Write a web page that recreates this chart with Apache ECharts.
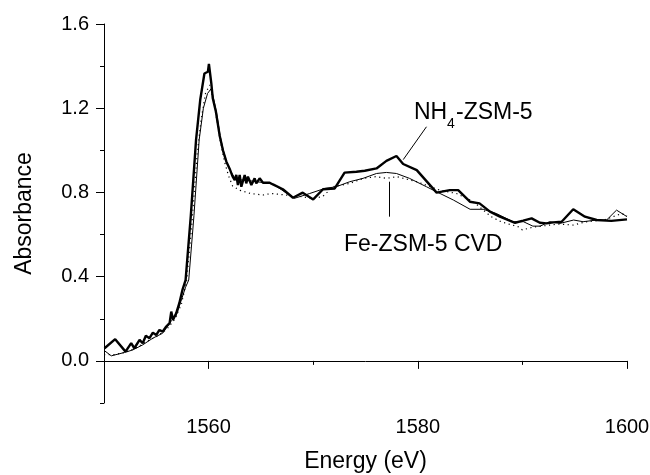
<!DOCTYPE html>
<html>
<head>
<meta charset="utf-8">
<script src="https://cdn.jsdelivr.net/npm/echarts@6/dist/echarts.min.js"></script>
<style>html,body{margin:0;padding:0;background:#fff}#c{width:650px;height:475px}</style>
</head>
<body>
<div id="c"></div>
<script>
// ---- data (energy eV, absorbance) ----
var nh4 = [
  [1550.05,0.06],[1551.07,0.103],[1552.06,0.044],[1552.6,0.084],[1552.9,0.06],[1553.4,0.10],
  [1553.7,0.084],[1554.0,0.119],[1554.35,0.108],[1554.67,0.134],[1555.0,0.123],[1555.3,0.147],
  [1555.6,0.139],[1555.95,0.163],[1556.27,0.179],[1556.43,0.234],[1556.6,0.195],[1556.9,0.226],
  [1557.2,0.274],[1557.5,0.337],[1557.8,0.384],[1558.3,0.69],[1558.8,1.05],[1559.2,1.24],
  [1559.6,1.365],[1559.93,1.373],[1560.03,1.41],[1560.26,1.318],[1560.4,1.247],[1560.7,1.183],
  [1561.05,1.072],[1561.37,1.0],[1561.7,0.946],[1562.0,0.914],[1562.3,0.875],[1562.5,0.859],
  [1562.65,0.883],[1562.8,0.835],[1562.97,0.883],[1563.13,0.827],[1563.45,0.883],[1563.6,0.843],
  [1563.76,0.875],[1564.09,0.835],[1564.4,0.867],[1564.56,0.843],[1564.88,0.867],[1565.2,0.846],
  [1565.84,0.846],[1566.15,0.838],[1567.1,0.815],[1568.07,0.775],[1569.0,0.799],[1570.0,0.767],
  [1570.94,0.815],[1572.06,0.819],[1573.0,0.894],[1574.13,0.898],[1574.93,0.903],[1576.05,0.914],
  [1577.0,0.95],[1577.96,0.973],[1578.6,0.935],[1579.9,0.906],[1581.8,0.799],[1583.06,0.811],
  [1583.86,0.811],[1584.98,0.756],[1585.9,0.748],[1586.9,0.709],[1587.85,0.685],[1589.3,0.656],
  [1590.08,0.666],[1590.88,0.677],[1591.67,0.656],[1592.3,0.653],[1592.95,0.658],[1593.75,0.661],
  [1594.86,0.72],[1595.98,0.685],[1597.1,0.669],[1598.5,0.665],[1600.0,0.672]
];
var cvd = [
  [1550.0,0.05],[1550.7,0.024],[1551.96,0.04],[1552.75,0.052],[1553.7,0.076],[1554.67,0.108],
  [1555.6,0.131],[1556.4,0.187],[1556.9,0.215],[1557.4,0.29],[1557.8,0.35],[1558.1,0.384],
  [1558.6,0.69],[1559.1,1.05],[1559.5,1.2],[1559.9,1.27],[1560.26,1.294],[1560.5,1.24],
  [1560.75,1.18],[1561.1,1.07],[1561.4,1.0],[1561.75,0.94],[1562.1,0.9],[1562.5,0.87],
  [1563.0,0.86],[1564.0,0.855],[1565.36,0.846],[1566.15,0.84],[1568.2,0.772],[1569.67,0.795],
  [1571.1,0.819],[1572.2,0.827],[1573.5,0.851],[1574.77,0.867],[1576.05,0.89],[1577.0,0.895],
  [1577.96,0.89],[1579.2,0.867],[1580.83,0.827],[1581.8,0.803],[1583.4,0.764],[1585.0,0.72],
  [1586.25,0.72],[1587.5,0.70],[1589.1,0.661],[1590.1,0.661],[1591.0,0.64],[1591.7,0.64],
  [1592.6,0.661],[1593.6,0.653],[1594.9,0.669],[1595.8,0.661],[1597.1,0.669],[1598.05,0.669],
  [1599.0,0.716],[1600.0,0.685]
];
var dotted = [
  [1550.0,0.03],[1551.0,0.03],[1552.0,0.04],[1553.0,0.06],[1554.0,0.09],[1555.0,0.115],
  [1556.0,0.15],[1556.8,0.2],[1557.4,0.27],[1557.9,0.38],[1558.4,0.65],[1558.9,0.98],
  [1559.3,1.15],[1559.7,1.27],[1560.1,1.31],[1560.4,1.25],[1560.7,1.17],[1561.1,1.05],
  [1561.5,0.95],[1561.9,0.88],[1562.3,0.83],[1563.0,0.81],[1564.0,0.795],[1565.2,0.788],
  [1566.0,0.795],[1567.3,0.788],[1568.9,0.78],[1569.9,0.772],[1570.9,0.78],[1571.9,0.827],
  [1573.5,0.843],[1574.8,0.867],[1576.0,0.875],[1577.0,0.867],[1578.0,0.875],[1579.9,0.851],
  [1582.1,0.811],[1583.7,0.795],[1585.0,0.764],[1585.7,0.74],[1587.0,0.685],[1588.0,0.66],
  [1589.6,0.637],[1590.0,0.622],[1591.0,0.635],[1592.6,0.645],[1593.5,0.65],[1594.9,0.645],
  [1596.0,0.66],[1597.8,0.669],[1599.5,0.70],[1600.0,0.69]
];
var xMajorTicks = [1560, 1580, 1600];
var xMinorTicks = [1550, 1570, 1590];
var yMajorTicks = [0, 0.4, 0.8, 1.2, 1.6];
var yMinorTicks = [-0.2, 0.2, 0.6, 1.0, 1.4];
var nhLeader = [[1580.83, 1.112], [1578.61, 0.956]];
var cvdLeader = [[1577.25, 0.851], [1577.25, 0.685]];

var FONT = "'Liberation Sans', Arial, sans-serif";
var chart = echarts.init(document.getElementById('c'), null, {renderer: 'canvas'});
var black = '#000';
function gridBox(){ return {left: 104, right: 23, top: 24, bottom: 72, containLabel: false, outerBoundsMode: 'none'}; }

var option = {
  backgroundColor: '#fff',
  animation: false,
  grid: [gridBox(), gridBox()],
  xAxis: [{
    gridIndex: 0, type: 'value', min: 1550, max: 1600, interval: 10,
    name: 'Energy (eV)', nameLocation: 'middle', nameGap: 47,
    nameTextStyle: {color: black, fontSize: 23, fontFamily: FONT},
    axisLine: {show: true, lineStyle: {color: black, width: 1}},
    axisTick: {show: true, inside: false, length: 8, customValues: xMajorTicks, lineStyle: {color: black, width: 1}},
    axisLabel: {show: true, margin: 14, color: black, fontSize: 20, fontFamily: FONT, customValues: xMajorTicks,
      formatter: function(v){ return (Math.round(v) % 20 === 0) ? String(Math.round(v)) : ''; }},
    splitLine: {show: false}
  }, {
    gridIndex: 1, type: 'value', min: 1550, max: 1600, interval: 10, position: 'bottom',
    axisLine: {show: false},
    axisTick: {show: true, inside: false, length: 4, customValues: xMinorTicks, lineStyle: {color: black, width: 1}},
    axisLabel: {show: false}, splitLine: {show: false}
  }],
  yAxis: [{
    gridIndex: 0, type: 'value', min: -0.2, max: 1.6, interval: 0.2,
    name: 'Absorbance', nameLocation: 'middle', nameGap: 68,
    nameTextStyle: {color: black, fontSize: 23, fontFamily: FONT},
    axisLine: {show: true, lineStyle: {color: black, width: 1}},
    axisTick: {show: true, inside: false, length: 8, customValues: yMajorTicks, lineStyle: {color: black, width: 1}},
    axisLabel: {show: true, margin: 15, color: black, fontSize: 20, fontFamily: FONT, customValues: yMajorTicks,
      formatter: function(v){ var k = Math.round(v * 10); return (k % 4 === 0) ? (k / 10).toFixed(1) : ''; }},
    splitLine: {show: false}
  }, {
    gridIndex: 1, type: 'value', min: -0.2, max: 1.6, interval: 0.2, position: 'left',
    axisLine: {show: false},
    axisTick: {show: true, inside: false, length: 4, customValues: yMinorTicks, lineStyle: {color: black, width: 1}},
    axisLabel: {show: false}, splitLine: {show: false}
  }],
  series: [
    {name: 'dotted', type: 'line', data: dotted, showSymbol: false, z: 2,
      lineStyle: {color: black, width: 1.2, type: [1.2, 3.5]}},
    {name: 'Fe-ZSM-5 CVD', type: 'line', data: cvd, showSymbol: false, z: 3,
      lineStyle: {color: black, width: 1}},
    {name: 'NH4-ZSM-5', type: 'line', data: nh4, showSymbol: false, z: 4,
      lineStyle: {color: black, width: 2.4},
      markLine: {silent: true, symbol: ['none', 'none'], animation: false, label: {show: false},
        lineStyle: {color: black, width: 1, type: 'solid'},
        data: [
          [{coord: nhLeader[0]}, {coord: nhLeader[1]}],
          [{coord: cvdLeader[0]}, {coord: cvdLeader[1]}]
        ]}}
  ],
  graphic: [
    {type: 'text', silent: true, style: {text: 'NH', x: 414, y: 113, fontSize: 23, fontFamily: FONT, fill: black, align: 'left', verticalAlign: 'middle'}},
    {type: 'text', silent: true, style: {text: '4', x: 447, y: 124, fontSize: 14, fontFamily: FONT, fill: black, align: 'left', verticalAlign: 'middle'}},
    {type: 'text', silent: true, style: {text: '-ZSM-5', x: 456, y: 113, fontSize: 23, fontFamily: FONT, fill: black, align: 'left', verticalAlign: 'middle'}},
    {type: 'text', silent: true, style: {text: 'Fe-ZSM-5 CVD', x: 344, y: 245, fontSize: 23, fontFamily: FONT, fill: black, align: 'left', verticalAlign: 'middle'}}
  ]
};
chart.setOption(option);
</script>
</body>
</html>
